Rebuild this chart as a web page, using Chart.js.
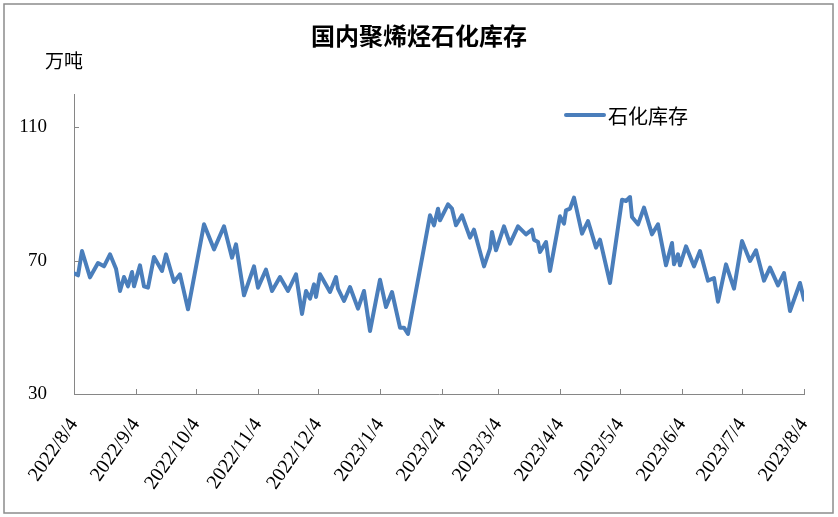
<!DOCTYPE html>
<html>
<head>
<meta charset="utf-8">
<title>国内聚烯烃石化库存</title>
<script src="https://cdn.jsdelivr.net/npm/chart.js@4.4.0/dist/chart.umd.min.js"></script>
<style>
    html, body { margin: 0; padding: 0; background: #fff; }
    #wrap { width: 838px; height: 517px; }
</style>
</head>
<body>
<div id="wrap"><canvas id="stockChart" width="838" height="517"></canvas></div>
<script>
var chartTitle = '国内聚烯烃石化库存';
var unitLabel = '万吨';
var seriesName = '石化库存';
var startDate = '2022-08-04';

var tickDates = ['2022-08-04', '2022-09-04', '2022-10-04', '2022-11-04', '2022-12-04', '2023-01-04',
    '2023-02-04', '2023-03-04', '2023-04-04', '2023-05-04', '2023-06-04', '2023-07-04', '2023-08-04'];
var tickLabels = ['2022/8/4', '2022/9/4', '2022/10/4', '2022/11/4', '2022/12/4', '2023/1/4',
    '2023/2/4', '2023/3/4', '2023/4/4', '2023/5/4', '2023/6/4', '2023/7/4', '2023/8/4'];
var yTicks = [30, 70, 110];

var dates = [
    '2022-08-04', '2022-08-06', '2022-08-08', '2022-08-12', '2022-08-16', '2022-08-19', '2022-08-22',
    '2022-08-25', '2022-08-27', '2022-08-29', '2022-08-31', '2022-09-02', '2022-09-03', '2022-09-06',
    '2022-09-08', '2022-09-10', '2022-09-13', '2022-09-17', '2022-09-19', '2022-09-23', '2022-09-26',
    '2022-09-30', '2022-10-08', '2022-10-13', '2022-10-18', '2022-10-20', '2022-10-22', '2022-10-24',
    '2022-10-28', '2022-11-02', '2022-11-04', '2022-11-08', '2022-11-11', '2022-11-15', '2022-11-19',
    '2022-11-23', '2022-11-26', '2022-11-28', '2022-11-30', '2022-12-02', '2022-12-03', '2022-12-05',
    '2022-12-10', '2022-12-13', '2022-12-14', '2022-12-17', '2022-12-20', '2022-12-24', '2022-12-27',
    '2022-12-30', '2023-01-04', '2023-01-07', '2023-01-10', '2023-01-14', '2023-01-16', '2023-01-18',
    '2023-01-29', '2023-01-31', '2023-02-02', '2023-02-03', '2023-02-07', '2023-02-09', '2023-02-11',
    '2023-02-14', '2023-02-18', '2023-02-20', '2023-02-25', '2023-02-28', '2023-03-01', '2023-03-03',
    '2023-03-07', '2023-03-10', '2023-03-14', '2023-03-18', '2023-03-21', '2023-03-22', '2023-03-24',
    '2023-03-25', '2023-03-28', '2023-03-30', '2023-04-04', '2023-04-06', '2023-04-07', '2023-04-09',
    '2023-04-11', '2023-04-15', '2023-04-18', '2023-04-22', '2023-04-24', '2023-04-29', '2023-05-05',
    '2023-05-07', '2023-05-09', '2023-05-10', '2023-05-13', '2023-05-16', '2023-05-20', '2023-05-23',
    '2023-05-27', '2023-05-30', '2023-05-31', '2023-06-02', '2023-06-03', '2023-06-06', '2023-06-10',
    '2023-06-13', '2023-06-17', '2023-06-20', '2023-06-22', '2023-06-26', '2023-06-30', '2023-07-04',
    '2023-07-08', '2023-07-11', '2023-07-15', '2023-07-18', '2023-07-22', '2023-07-25', '2023-07-28',
    '2023-08-02', '2023-08-04'
];
var stocks = [
    66.2, 65.6, 72.9, 65.0, 69.3, 68.3, 71.9,
    67.6, 60.9, 65.1, 62.3, 66.6, 62.3, 68.6,
    62.3, 61.9, 71.1, 66.9, 71.9, 63.6, 65.9,
    55.4, 80.9, 73.4, 80.3, 75.6, 70.9, 74.9,
    59.6, 68.3, 61.9, 67.3, 60.9, 65.1, 60.9,
    65.9, 54.0, 60.9, 58.6, 62.9, 59.1, 65.9,
    60.6, 65.1, 61.6, 57.9, 62.1, 55.6, 60.9,
    48.9, 64.3, 56.1, 60.6, 49.9, 49.9, 48.0,
    83.6, 80.6, 85.6, 82.1, 86.9, 85.6, 80.6,
    83.6, 76.9, 79.3, 68.3, 73.6, 78.6, 73.1,
    80.3, 75.1, 80.3, 77.9, 79.3, 76.3, 75.6,
    72.6, 75.6, 66.9, 83.3, 81.1, 85.1, 85.6,
    88.9, 78.1, 81.9, 73.9, 76.3, 63.3, 88.3,
    87.9, 89.1, 83.1, 80.9, 85.9, 77.9, 80.9,
    68.6, 75.3, 68.9, 71.9, 68.6, 74.3, 68.3,
    72.9, 64.0, 64.8, 57.7, 68.9, 61.6, 75.9,
    69.9, 73.1, 64.0, 67.9, 62.6, 66.3, 54.9,
    63.3, 58.3
];

function dayOf(s) {
    return Math.round((Date.parse(s) - Date.parse(startDate)) / 86400000);
}

var tickDays = tickDates.map(dayOf);
var points = dates.map(function (d, i) { return { x: dayOf(d), y: stocks[i] }; });

var axisColor = '#868686';
var lineColor = '#4A7EBB';

// frame, title, unit, legend and the small inward tick marks
var decorPlugin = {
    id: 'decor',
    beforeDraw: function (chart) {
        var c = chart.ctx;
        c.save();
        c.fillStyle = '#fff';
        c.fillRect(0, 0, chart.width, chart.height);
        c.strokeStyle = '#8c8c8c';
        c.lineWidth = 1.5;
        c.strokeRect(4, 4, 829, 509);
        c.restore();
    },
    afterDraw: function (chart) {
        var c = chart.ctx;
        var area = chart.chartArea;
        var xs = chart.scales.x, ys = chart.scales.y;
        c.save();
        c.strokeStyle = axisColor;
        c.lineWidth = 1;
        tickDays.forEach(function (d) {
            var px = Math.round(xs.getPixelForValue(d)) + 0.5;
            c.beginPath();
            c.moveTo(px, area.bottom);
            c.lineTo(px, area.bottom - 5);
            c.stroke();
        });
        yTicks.forEach(function (v) {
            var py = Math.round(ys.getPixelForValue(v)) + 0.5;
            c.beginPath();
            c.moveTo(area.left, py);
            c.lineTo(area.left + 5, py);
            c.stroke();
        });

        c.fillStyle = '#000';
        c.textBaseline = 'middle';
        c.textAlign = 'center';
        c.font = 'bold 24px "Noto Sans CJK SC"';
        c.fillText(chartTitle, 419, 36);

        c.textAlign = 'left';
        c.font = '19px "Noto Sans CJK SC"';
        c.fillText(unitLabel, 45, 61);

        c.strokeStyle = lineColor;
        c.lineWidth = 4;
        c.lineCap = 'round';
        c.beginPath();
        c.moveTo(566, 115);
        c.lineTo(604, 115);
        c.stroke();
        c.font = '20px "Noto Sans CJK SC"';
        c.fillText(seriesName, 608, 116);
        c.restore();
    }
};

document.addEventListener('DOMContentLoaded', function () {
    var ctx = document.getElementById('stockChart').getContext('2d');
    var stockChart = new Chart(ctx, {
        type: 'line',
        data: {
            datasets: [{
                label: seriesName,
                data: points,
                borderColor: lineColor,
                borderWidth: 4,
                borderJoinStyle: 'round',
                borderCapStyle: 'round',
                pointRadius: 0,
                tension: 0,
                fill: false
            }]
        },
        options: {
            responsive: false,
            animation: false,
            layout: {
                padding: { left: 0, right: 34, top: 94, bottom: 4 }
            },
            plugins: {
                legend: { display: false },
                title: { display: false },
                tooltip: { enabled: false }
            },
            scales: {
                x: {
                    type: 'linear',
                    min: 0,
                    max: 365,
                    afterBuildTicks: function (scale) {
                        scale.ticks = tickDays.map(function (d) { return { value: d }; });
                    },
                    afterFit: function (scale) {
                        scale.height = 119;
                        scale.paddingLeft = 0;
                        scale.paddingRight = 0;
                    },
                    grid: { drawOnChartArea: false, drawTicks: false },
                    border: { color: axisColor, width: 1 },
                    ticks: {
                        autoSkip: false,
                        minRotation: 55,
                        maxRotation: 55,
                        padding: 20,
                        color: '#000',
                        font: { family: '"Liberation Serif"', size: 20 },
                        callback: function (value) {
                            var i = tickDays.indexOf(value);
                            return i >= 0 ? tickLabels[i] : '';
                        }
                    }
                },
                y: {
                    min: 30,
                    max: 120,
                    afterBuildTicks: function (scale) {
                        scale.ticks = yTicks.map(function (v) { return { value: v }; });
                    },
                    afterFit: function (scale) { scale.width = 74; },
                    grid: { drawOnChartArea: false, drawTicks: false },
                    border: { color: axisColor, width: 1 },
                    ticks: {
                        padding: 27,
                        color: '#000',
                        font: { family: '"Liberation Serif"', size: 19 }
                    }
                }
            }
        },
        plugins: [decorPlugin]
    });
});
</script>
</body>
</html>
